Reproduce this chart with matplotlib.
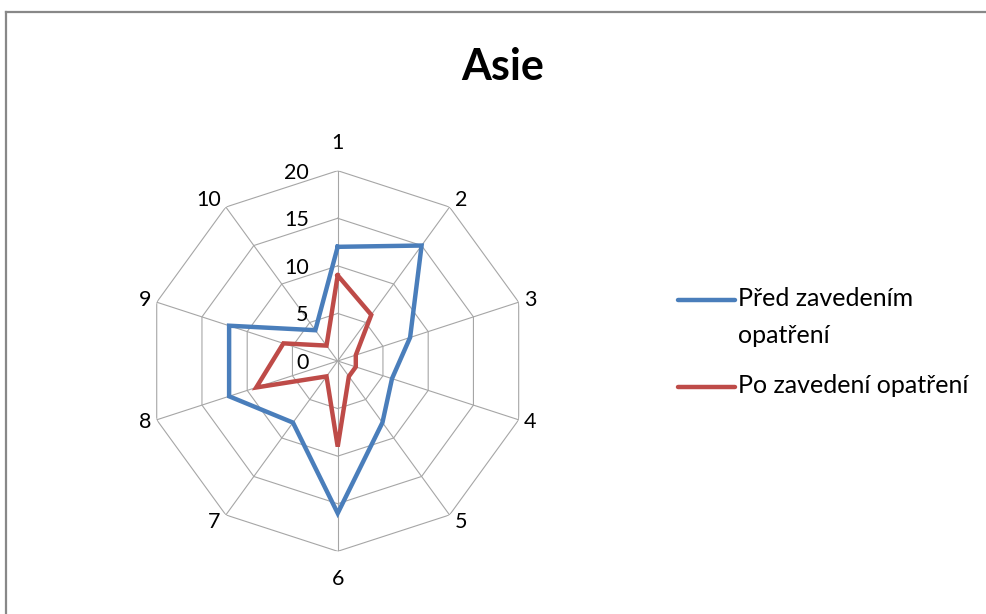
import numpy as np
import matplotlib.pyplot as plt
from matplotlib.lines import Line2D

plt.rcParams['font.family'] = ['Lato', 'DejaVu Sans']

# radar data, axes 1..10
categories = ['1', '2', '3', '4', '5', '6', '7', '8', '9', '10']
pred = [12, 15, 8, 6, 8, 16, 8, 12, 12, 4]
po = [9, 6, 2, 2, 2, 9, 2, 9, 6, 2]
series_names = ['Před zavedením\nopatření', 'Po zavedení opatření']
rings = [0, 5, 10, 15, 20]

BLUE = '#4a7ebb'
RED = '#be4b48'
GRID = '#a6a6a6'

W, H = 987, 614
fig = plt.figure(figsize=(W / 100, H / 100), dpi=100)

# outer chart frame (top and left edge visible)
fig.add_artist(Line2D([6 / W, 6 / W], [0, 1 - 12 / H], color='#888888', lw=1.6))
fig.add_artist(Line2D([6 / W, 1], [1 - 12 / H, 1 - 12 / H], color='#888888', lw=1.6))

fig.text(503 / W, 1 - 67 / H, 'Asie', ha='center', va='center',
         fontsize=31, fontweight='bold')

# polar axes: centre (337.7, 361) px, radius 190 px
cx, cy, rad = 337.7, 361, 190.3
ax = fig.add_axes([(cx - rad) / W, (H - cy - rad) / H, 2 * rad / W, 2 * rad / H],
                  projection='polar')
ax.set_theta_offset(np.pi / 2)
ax.set_theta_direction(-1)
ax.set_ylim(0, 20)
ax.set_axis_off()

n = len(categories)
angles = np.arange(n) * 2 * np.pi / n
closed = np.append(angles, angles[0])

# decagon grid
for r in rings[1:]:
    ax.plot(closed, [r] * (n + 1), color=GRID, lw=0.8, zorder=1)
for a in angles:
    ax.plot([a, a], [0, rings[-1]], color=GRID, lw=0.8, zorder=1)

ax.plot(closed, pred + pred[:1], color=BLUE, lw=3.2, zorder=3, solid_joinstyle='miter')
ax.plot(closed, po + po[:1], color=RED, lw=3.2, zorder=4, solid_joinstyle='miter')

# radial value labels along the first spoke
for r in rings:
    ax.annotate(str(r), xy=(0, r), xytext=(-29, -2), textcoords='offset pixels',
                ha='right', va='center', fontsize=15.5)

# category labels around the outside
for lab, a in zip(categories, angles):
    s, c = np.sin(a), np.cos(a)
    if abs(s) < 0.01:
        ha, off = 'center', (0, 28 * c)
    else:
        ha = 'left' if s > 0 else 'right'
        off = (5 * np.sign(s), 8.6 * c)
    ax.annotate(lab, xy=(a, rings[-1]), xytext=off, textcoords='offset pixels',
                ha=ha, va='center', fontsize=15.5)

# legend
for name, col, y in zip(series_names, [BLUE, RED], [300, 387]):
    fig.add_artist(Line2D([678 / W, 735 / W], [1 - y / H, 1 - y / H],
                          color=col, lw=3.2, solid_capstyle='round'))
    fig.text(738 / W, 1 - (y - 13) / H, name, ha='left', va='top',
             fontsize=18, linespacing=1.75)

fig.savefig('out.png', dpi=100)
